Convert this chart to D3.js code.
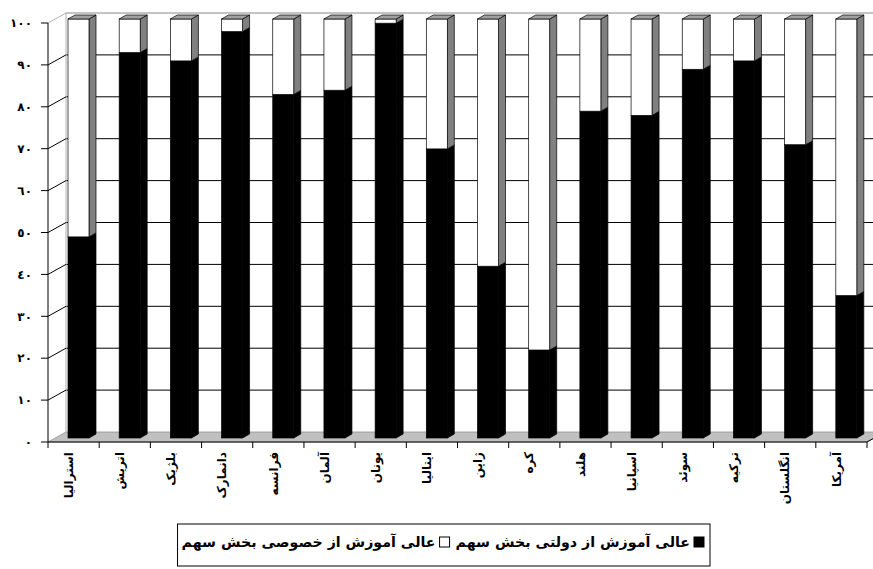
<!DOCTYPE html>
<html>
<head>
<meta charset="utf-8">
<script src="https://cdn.jsdelivr.net/npm/d3@7"></script>
<style>
  body { margin: 0; background: #fff; }
  svg { display: block; }
</style>
</head>
<body>
<svg id="chart" width="873" height="569"></svg>
<script>
// countries, left to right
const countries = ['استرالیا', 'اتریش', 'بلژیک', 'دانمارک', 'فرانسه', 'آلمان', 'یونان', 'ایتالیا',
                   'ژاپن', 'کره', 'هلند', 'اسپانیا', 'سوئد', 'ترکیه', 'انگلستان', 'آمریکا'];
// government share of higher education (black)
const govShare = [48, 92, 90, 97, 82, 83, 99, 69, 41, 21, 78, 77, 88, 90, 70, 34];
// private share of higher education (white)
const privShare = [52, 8, 10, 3, 18, 17, 1, 31, 59, 79, 22, 23, 12, 10, 30, 66];

const yTicks = [0, 10, 20, 30, 40, 50, 60, 70, 80, 90, 100];
const yTickLabels = ['٠', '١٠', '٢٠', '٣٠', '٤٠', '٥٠', '٦٠', '٧٠', '٨٠', '٩٠', '١٠٠'];

const seriesNames = {
    gov: 'سهم بخش دولتی از آموزش عالی',
    priv: 'سهم بخش خصوصی از آموزش عالی'
};

const svg = d3.select('#chart');
const font = "'DejaVu Sans', sans-serif";

// front plane of the 3d box
const x0 = 48, x1 = 867;
const wall = { dx: 18, dy: -10 };     // back wall offset
const barFront = { dx: 7, dy: -4 };   // front face of columns
const barBack = { dx: 14, dy: -8 };   // back face of columns

const x = d3.scaleBand().domain(countries).range([x0, x1]).padding(0);
const y = d3.scaleLinear().domain([0, 100]).range([442, 23]);

const rows = countries.map((c, i) => ({ country: c, gov: govShare[i], priv: privShare[i] }));
const stacked = d3.stack().keys(['gov', 'priv'])(rows);

const line = d3.line();

// back wall
svg.append('rect')
    .attr('x', x0 + wall.dx).attr('y', y(100) + wall.dy)
    .attr('width', x1 - x0).attr('height', y(0) - y(100))
    .attr('fill', '#fff');

// grid lines on the back wall
svg.append('g')
    .selectAll('line')
    .data(yTicks.filter(v => v > 0))
    .join('line')
    .attr('x1', x0 + wall.dx).attr('x2', x1 + wall.dx)
    .attr('y1', v => y(v) + wall.dy).attr('y2', v => y(v) + wall.dy)
    .attr('stroke', v => v === 100 ? '#b0b0b0' : '#000')
    .attr('stroke-width', v => v === 100 ? 1.5 : 1);

// left wall edges
svg.append('line')
    .attr('x1', x0 + wall.dx).attr('x2', x0 + wall.dx)
    .attr('y1', y(100) + wall.dy).attr('y2', y(0) + wall.dy)
    .attr('stroke', '#b0b0b0');

svg.append('g')
    .selectAll('path')
    .data(yTicks.filter(v => v > 0))
    .join('path')
    .attr('d', v => line([[x0, y(v)], [x0 + wall.dx, y(v) + wall.dy]]))
    .attr('stroke', v => v === 100 ? '#b0b0b0' : '#000')
    .attr('fill', 'none');

// floor
svg.append('path')
    .attr('d', line([[x0, y(0)], [x1, y(0)], [x1 + wall.dx, y(0) + wall.dy], [x0 + wall.dx, y(0) + wall.dy]]) + 'Z')
    .attr('fill', '#c0c0c0')
    .attr('stroke', '#909090')
    .attr('stroke-width', 0.8);

// columns
const bw = 21;
const colX = c => x(c) + 13;

stacked.forEach(s => {
    const isGov = s.key === 'gov';
    const g = svg.append('g');
    s.forEach((d, i) => {
        const bx = colX(countries[i]);
        const yTop = y(d[1]), yBot = y(d[0]);
        g.append('path')
            .attr('d', line([[bx + bw + barFront.dx, yTop + barFront.dy], [bx + bw + barBack.dx, yTop + barBack.dy],
                             [bx + bw + barBack.dx, yBot + barBack.dy], [bx + bw + barFront.dx, yBot + barFront.dy]]) + 'Z')
            .attr('fill', isGov ? '#000' : '#808080')
            .attr('stroke', '#000')
            .attr('stroke-width', 0.7);
        g.append('rect')
            .attr('x', bx + barFront.dx).attr('y', yTop + barFront.dy)
            .attr('width', bw).attr('height', yBot - yTop)
            .attr('fill', isGov ? '#000' : '#fff')
            .attr('stroke', '#000')
            .attr('stroke-width', 0.7);
        if (!isGov) {
            g.append('path')
                .attr('d', line([[bx + barFront.dx, yTop + barFront.dy], [bx + barBack.dx, yTop + barBack.dy],
                                 [bx + bw + barBack.dx, yTop + barBack.dy], [bx + bw + barFront.dx, yTop + barFront.dy]]) + 'Z')
                .attr('fill', '#a0a0a0')
                .attr('stroke', '#000')
                .attr('stroke-width', 0.7);
        }
    });
});

// front axes
svg.append('line')
    .attr('x1', x0).attr('x2', x0).attr('y1', y(100)).attr('y2', y(0))
    .attr('stroke', '#000');
svg.append('line')
    .attr('x1', x0).attr('x2', x1).attr('y1', y(0)).attr('y2', y(0))
    .attr('stroke', '#000');
svg.append('line')
    .attr('x1', x1).attr('x2', x1 + wall.dx).attr('y1', y(0)).attr('y2', y(0) + wall.dy)
    .attr('stroke', '#000');

// y ticks and labels
const yAxis = svg.append('g');
yTicks.forEach((v, i) => {
    yAxis.append('line')
        .attr('x1', x0 - 7).attr('x2', x0).attr('y1', y(v)).attr('y2', y(v))
        .attr('stroke', '#000');
    yAxis.append('text')
        .attr('x', 32).attr('y', y(v)).attr('dy', '0.35em')
        .attr('text-anchor', 'end')
        .style('font-family', font).style('font-size', '12px').style('font-weight', 'bold')
        .text(yTickLabels[i]);
});

// x ticks at category boundaries
svg.append('g')
    .selectAll('line')
    .data(d3.range(countries.length + 1))
    .join('line')
    .attr('x1', k => x0 + k * x.step()).attr('x2', k => x0 + k * x.step())
    .attr('y1', y(0)).attr('y2', y(0) + 6)
    .attr('stroke', '#000');

// category labels, rotated
svg.append('g')
    .selectAll('text')
    .data(countries)
    .join('text')
    .attr('transform', c => `translate(${x(c) + x.bandwidth() / 2 - 5},452) rotate(-90)`)
    .attr('dy', '0.35em')
    .attr('text-anchor', 'end')
    .style('font-family', font).style('font-size', '12px').style('font-weight', 'bold')
    .text(c => c);

// legend (words run left to right, as in the source picture)
const ltrWords = s => s.split(' ').join('\u200E \u200E');
const legend = svg.append('g');
const legY = 547;
const legFont = s => s.style('font-family', font).style('font-size', '14.2px').style('font-weight', 'bold');
legend.append('rect')
    .attr('x', 694).attr('y', legY - 10).attr('width', 10).attr('height', 10)
    .attr('fill', '#000').attr('stroke', '#000');
const t2 = legend.append('text')
    .attr('x', 690).attr('y', legY)
    .attr('text-anchor', 'end')
    .call(legFont)
    .text(ltrWords(seriesNames.gov));
const w2 = t2.node().getComputedTextLength();
const sq2 = 690 - w2 - 16;
legend.append('rect')
    .attr('x', sq2).attr('y', legY - 10).attr('width', 10).attr('height', 10)
    .attr('fill', '#fff').attr('stroke', '#000');
const t1 = legend.append('text')
    .attr('x', sq2 - 4).attr('y', legY)
    .attr('text-anchor', 'end')
    .call(legFont)
    .text(ltrWords(seriesNames.priv));
const w1 = t1.node().getComputedTextLength();
legend.insert('rect', ':first-child')
    .attr('x', sq2 - 4 - w1 - 4).attr('y', 524)
    .attr('width', 710 - (sq2 - 4 - w1 - 4)).attr('height', 42)
    .attr('fill', '#fff').attr('stroke', '#000');
</script>
</body>
</html>
